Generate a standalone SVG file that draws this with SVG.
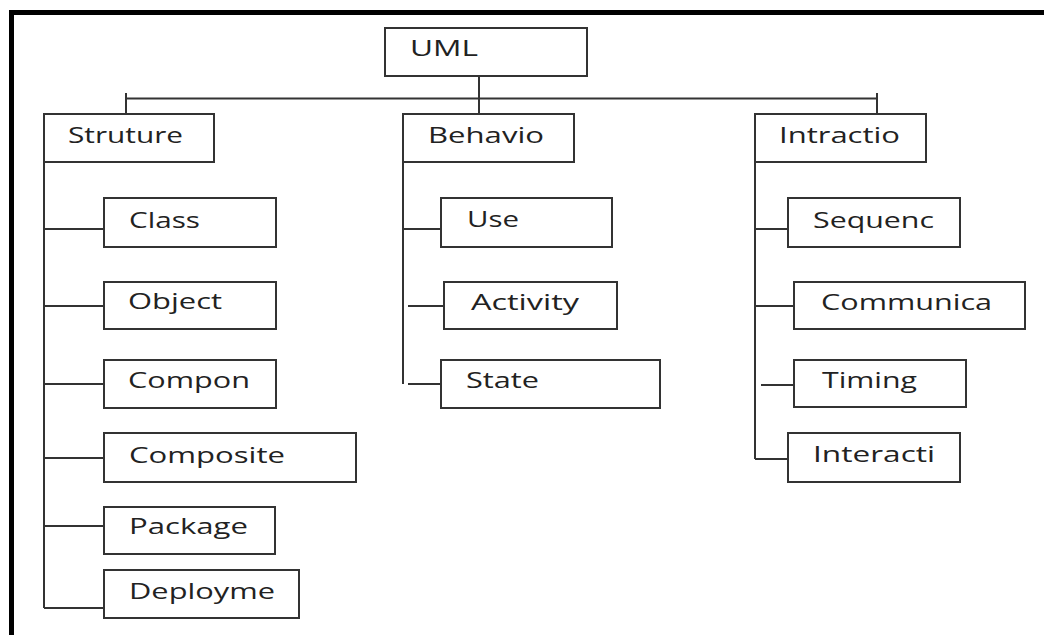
<svg xmlns="http://www.w3.org/2000/svg" width="1044" height="635" viewBox="0 0 1044 635">
<style>
.box{fill:#fff;stroke:#333;stroke-width:2}
.lbl{font-family:"Open Sans","DejaVu Sans",sans-serif;font-size:21px;fill:#222}
.con{fill:none;stroke:#333;stroke-width:2}
</style>
<rect x="0" y="0" width="1044" height="635" fill="#fff"/>
<path d="M11.5,635 V12.5 H1044" fill="none" stroke="#000" stroke-width="5"/>
<g id="connectors">
<path class="con" d="M126,98.5 H877 M126,93 V114 M877,93 V114 M479,76 V114"/>
<path class="con" d="M44,162 V608 M44,229 H104 M44,306 H104 M44,384 H104 M44,458 H104 M44,526 H104 M44,608 H104"/>
<path class="con" d="M403,162 V384 M403,229 H441 M408,306 H444 M408,384 H441"/>
<path class="con" d="M755,162 V459 M755,229 H788 M755,306 H794 M761,385 H794 M755,459 H788"/>
</g>
<g id="uml"><rect class="box" x="385" y="28" width="202" height="48"/><text class="lbl" x="410" y="56" textLength="68" lengthAdjust="spacingAndGlyphs">UML</text></g>
<g id="struture"><rect class="box" x="44" y="114" width="170" height="48"/><text class="lbl" x="68" y="143" textLength="115" lengthAdjust="spacingAndGlyphs">Struture</text></g>
<g id="behavio"><rect class="box" x="403" y="114" width="171" height="48"/><text class="lbl" x="428" y="143" textLength="116" lengthAdjust="spacingAndGlyphs">Behavio</text></g>
<g id="intractio"><rect class="box" x="755" y="114" width="171" height="48"/><text class="lbl" x="779" y="143" textLength="121" lengthAdjust="spacingAndGlyphs">Intractio</text></g>
<g id="class"><rect class="box" x="104" y="198" width="172" height="49"/><text class="lbl" x="129" y="228" textLength="71" lengthAdjust="spacingAndGlyphs">Class</text></g>
<g id="object"><rect class="box" x="104" y="282" width="172" height="47"/><text class="lbl" x="128" y="309" textLength="94" lengthAdjust="spacingAndGlyphs">Object</text></g>
<g id="compon"><rect class="box" x="104" y="360" width="172" height="48"/><text class="lbl" x="128" y="388" textLength="122" lengthAdjust="spacingAndGlyphs">Compon</text></g>
<g id="composite"><rect class="box" x="104" y="433" width="252" height="49"/><text class="lbl" x="129" y="463" textLength="156" lengthAdjust="spacingAndGlyphs">Composite</text></g>
<g id="package"><rect class="box" x="104" y="507" width="171" height="47"/><text class="lbl" x="129" y="534" textLength="119" lengthAdjust="spacingAndGlyphs">Package</text></g>
<g id="deployme"><rect class="box" x="104" y="570" width="195" height="48"/><text class="lbl" x="129" y="599" textLength="146" lengthAdjust="spacingAndGlyphs">Deployme</text></g>
<g id="use"><rect class="box" x="441" y="198" width="171" height="49"/><text class="lbl" x="467" y="227" textLength="52" lengthAdjust="spacingAndGlyphs">Use</text></g>
<g id="activity"><rect class="box" x="444" y="282" width="173" height="47"/><text class="lbl" x="471" y="310" textLength="108" lengthAdjust="spacingAndGlyphs">Activity</text></g>
<g id="state"><rect class="box" x="441" y="360" width="219" height="48"/><text class="lbl" x="466" y="388" textLength="73" lengthAdjust="spacingAndGlyphs">State</text></g>
<g id="sequenc"><rect class="box" x="788" y="198" width="172" height="49"/><text class="lbl" x="813" y="228" textLength="121" lengthAdjust="spacingAndGlyphs">Sequenc</text></g>
<g id="communica"><rect class="box" x="794" y="282" width="231" height="47"/><text class="lbl" x="821" y="310" textLength="171" lengthAdjust="spacingAndGlyphs">Communica</text></g>
<g id="timing"><rect class="box" x="794" y="360" width="172" height="47"/><text class="lbl" x="822" y="388" textLength="95" lengthAdjust="spacingAndGlyphs">Timing</text></g>
<g id="interacti"><rect class="box" x="788" y="433" width="172" height="49"/><text class="lbl" x="813" y="462" textLength="122" lengthAdjust="spacingAndGlyphs">Interacti</text></g>
</svg>
